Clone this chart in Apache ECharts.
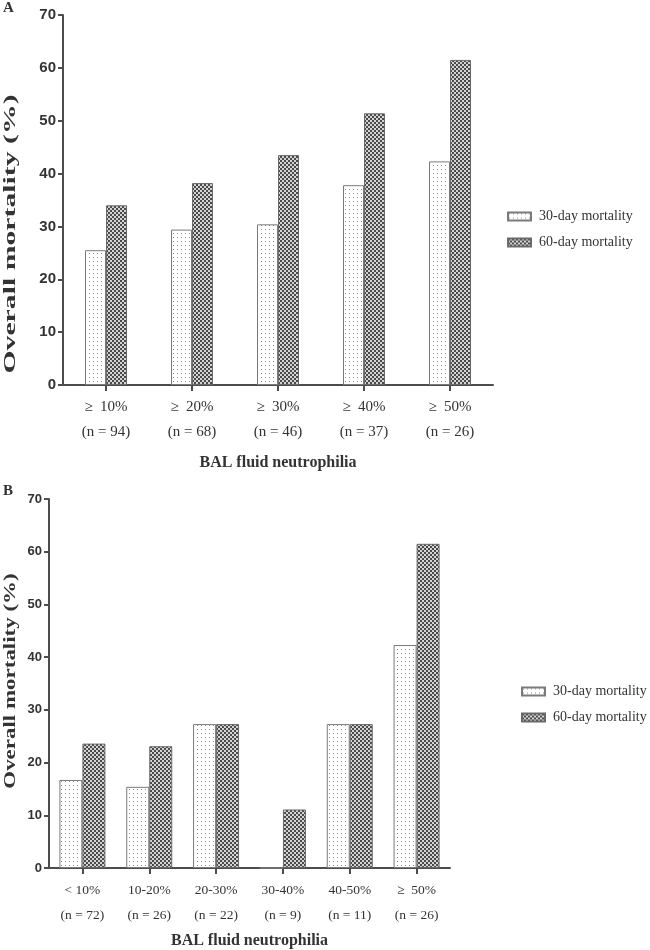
<!DOCTYPE html>
<html>
<head>
<meta charset="utf-8">
<script src="https://cdn.jsdelivr.net/npm/echarts@6/dist/echarts.min.js"></script>
<style>
html,body{margin:0;padding:0;background:#fff;}
#main{width:650px;height:950px;}
</style>
</head>
<body>
<div id="main"></div>
<script>
// ---- data ----
const catsA = ['\u2265  10%', '\u2265  20%', '\u2265  30%', '\u2265  40%', '\u2265  50%'];
const nA = ['(n = 94)', '(n = 68)', '(n = 46)', '(n = 37)', '(n = 26)'];
const mort30A = [25.5, 29.4, 30.4, 37.8, 42.3];
const mort60A = [34.0, 38.2, 43.5, 51.4, 61.5];

const catsB = ['< 10%', '10-20%', '20-30%', '30-40%', '40-50%', '\u2265  50%'];
const nB = ['(n = 72)', '(n = 26)', '(n = 22)', '(n = 9)', '(n = 11)', '(n = 26)'];
const mort30B = [16.7, 15.4, 27.3, 0, 27.3, 42.3];
const mort60B = [23.6, 23.1, 27.3, 11.1, 27.3, 61.5];

const yTicks = [0, 10, 20, 30, 40, 50, 60, 70];

// ---- patterns ----
function makeDots() {
  const c = document.createElement('canvas'); c.width = 4; c.height = 4;
  const g = c.getContext('2d');
  g.fillStyle = '#ffffff'; g.fillRect(0, 0, 4, 4);
  g.fillStyle = '#8c8c8c'; g.fillRect(1, 1, 1, 1);
  return c;
}
function makeChecker() {
  const c = document.createElement('canvas'); c.width = 4; c.height = 4;
  const g = c.getContext('2d');
  g.fillStyle = '#d4d4d4'; g.fillRect(0, 0, 4, 4);
  g.fillStyle = '#4a4a4a'; g.fillRect(0, 0, 2, 2); g.fillRect(2, 2, 2, 2);
  return c;
}
const dotPat = { image: makeDots(), repeat: 'repeat' };
const chkPat = { image: makeChecker(), repeat: 'repeat' };

const serif = 'Liberation Serif';
const sans = 'Liberation Sans';
const axisCol = '#4d4d4d';
const txtCol = '#333333';

function xAx(gi, cats, ns, fs, margin, nameGap) {
  return {
    type: 'category', gridIndex: gi,
    data: cats.map((c, i) => c + '\n' + ns[i]),
    axisLine: { lineStyle: { color: axisCol, width: 2 } },
    axisTick: { show: true, alignWithLabel: true, length: 6, lineStyle: { color: axisCol, width: 2 } },
    axisLabel: { fontFamily: serif, fontSize: fs, color: txtCol, lineHeight: 25, margin: margin, interval: 0 },
    name: 'BAL fluid neutrophilia', nameLocation: 'middle', nameGap: nameGap,
    nameTextStyle: { fontFamily: serif, fontWeight: 'bold', fontSize: 16, color: txtCol }
  };
}
function yAx(gi, fs) {
  return {
    type: 'value', gridIndex: gi, min: 0, max: 70, interval: 10,
    axisLine: { show: true, lineStyle: { color: axisCol, width: 2 } },
    axisTick: { show: true, length: 5, lineStyle: { color: axisCol, width: 2 } },
    splitLine: { show: false },
    axisLabel: { fontFamily: sans, fontWeight: 'bold', fontSize: fs, color: txtCol, margin: 7,
      formatter: v => yTicks.indexOf(v) >= 0 ? String(v) : '' }
  };
}
function legend(left, top) {
  return {
    orient: 'vertical', left: left, top: top, icon: 'rect',
    itemWidth: 23, itemHeight: 8, itemGap: 11,
    data: ['30-day mortality', '60-day mortality'],
    textStyle: { fontFamily: serif, fontSize: 14, color: txtCol, lineHeight: 15, padding: [0, 0, 0, 3] }
  };
}

const option = {
  backgroundColor: '#ffffff',
  animation: false,
  grid: [
    { left: 63, top: 15, width: 430, height: 370 },
    { left: 49, top: 499, width: 401, height: 369 }
  ],
  xAxis: [xAx(0, catsA, nA, 15, 10, 70), xAx(1, catsB, nB, 13.5, 10, 65)],
  yAxis: [yAx(0, 15), yAx(1, 13)],
  legend: [legend(502, 204), legend(516, 679)],
  series: [
    { type: 'bar', name: '30-day mortality', xAxisIndex: 0, yAxisIndex: 0, data: mort30A,
      barWidth: 21, barGap: '0%', itemStyle: { color: dotPat, borderColor: '#7a7a7a', borderWidth: 1 } },
    { type: 'bar', name: '60-day mortality', xAxisIndex: 0, yAxisIndex: 0, data: mort60A,
      barWidth: 21, barGap: '0%', itemStyle: { color: chkPat, borderColor: '#6a6a6a', borderWidth: 1 } },
    { type: 'bar', name: '30-day mortality', xAxisIndex: 1, yAxisIndex: 1, data: mort30B,
      barWidth: 23, barGap: '0%', itemStyle: { color: dotPat, borderColor: '#7a7a7a', borderWidth: 1 } },
    { type: 'bar', name: '60-day mortality', xAxisIndex: 1, yAxisIndex: 1, data: mort60B,
      barWidth: 23, barGap: '0%', itemStyle: { color: chkPat, borderColor: '#6a6a6a', borderWidth: 1 } }
  ],
  graphic: [
    { type: 'text', left: 3, top: 1, style: { text: 'A', font: 'bold 15px "Liberation Serif"', fill: txtCol } },
    { type: 'text', left: 3, top: 484, style: { text: 'B', font: 'bold 15px "Liberation Serif"', fill: txtCol } },
    { type: 'text', x: 11, y: 234, rotation: Math.PI / 2, scaleX: 1.75,
      style: { text: 'Overall mortality (%)', font: 'bold 17px "Liberation Serif"', fill: txtCol, align: 'center', verticalAlign: 'middle' } },
    { type: 'text', x: 11, y: 681, rotation: Math.PI / 2, scaleX: 1.35,
      style: { text: 'Overall mortality (%)', font: 'bold 17px "Liberation Serif"', fill: txtCol, align: 'center', verticalAlign: 'middle' } }
  ]
};

const chart = echarts.init(document.getElementById('main'), null, { renderer: 'canvas' });
chart.setOption(option);
</script>
</body>
</html>
